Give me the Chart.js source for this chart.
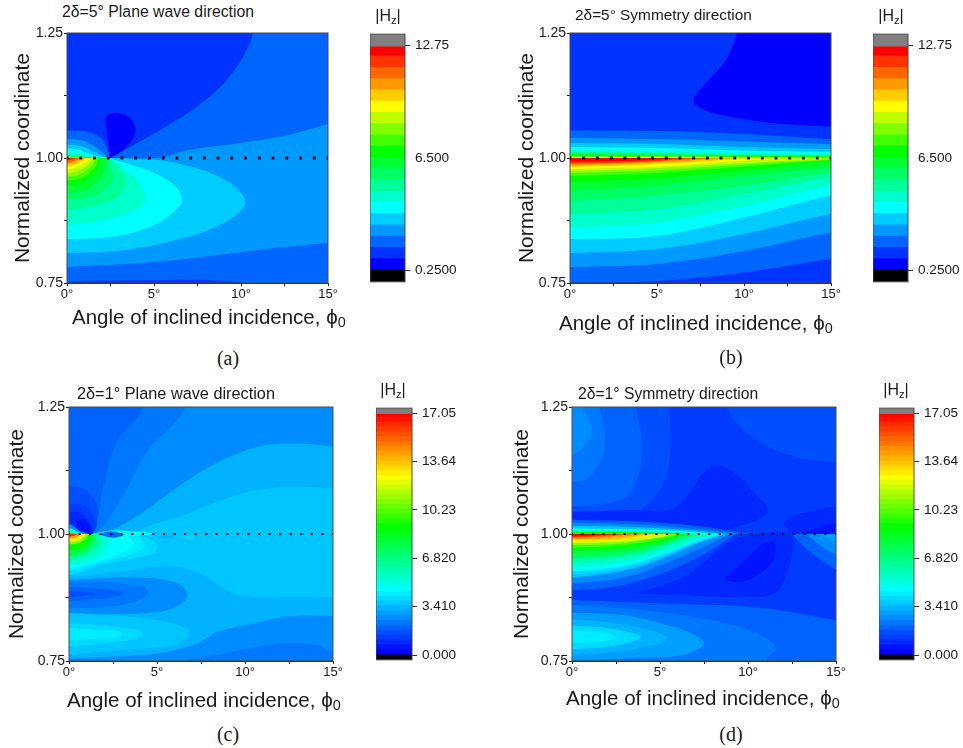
<!DOCTYPE html>
<html>
<head>
<meta charset="utf-8">
<title>Hz contour maps</title>
<script src="https://cdn.jsdelivr.net/npm/chart.js@4"></script>
<style>
  html, body { margin: 0; background: #fff; overflow: hidden; }
  #page { position: relative; width: 963px; height: 748px; font-family: "Liberation Sans", Arial, sans-serif; color: #1a1a1a; }
  canvas { position: absolute; }
  .lbl { position: absolute; white-space: nowrap; transform: translateY(-50%); line-height: 1; }
  .lbl sub { font-size: 70%; vertical-align: -0.25em; line-height: 0; }
  .mid { transform: translate(-50%, -50%); }
  .serif { font-family: "Liberation Serif", serif; }
</style>
</head>
<body>
<div id="page"></div>
<script>
// colour bar levels
const levelsAB = [0.25,0.875,1.5,2.125,2.75,3.375,4,4.625,5.25,5.875,6.5,7.125,7.75,8.375,9,9.625,10.25,10.875,11.5,12.125,12.75];
const levelsCD = [0,0.341,0.682,1.023,1.364,1.705,2.046,2.387,2.728,3.069,3.41,3.751,4.092,4.433,4.774,5.115,5.456,5.797,6.138,6.479,6.82,7.161,7.502,7.843,8.184,8.525,8.866,9.207,9.548,9.889,10.23,10.571,10.912,11.253,11.594,11.935,12.276,12.617,12.958,13.299,13.64,13.981,14.322,14.663,15.004,15.345,15.686,16.027,16.368,16.709,17.05];
const barTicksAB = [12.75, 6.5, 0.25];
const barLabelsAB = ["12.75", "6.500", "0.2500"];
const barTicksCD = [17.05, 13.64, 10.23, 6.82, 3.41, 0];
const barLabelsCD = ["17.05", "13.64", "10.23", "6.820", "3.410", "0.000"];

// dotted line at coordinate 1.00
const dotsAB = [0,0.79,1.58,2.37,3.16,3.95,4.74,5.53,6.32,7.11,7.89,8.68,9.47,10.26,11.05,11.84,12.63,13.42,14.21,15];
const dotsCD = [0,0.6,1.2,1.8,2.4,3,3.6,4.2,4.8,5.4,6,6.6,7.2,7.8,8.4,9,9.6,10.2,10.8,11.4,12,12.6,13.2,13.8,14.4,15];

// contour regions: [level or |Hz|, angle, coordinate, angle, coordinate, ...]
// a repeated point is a sharp corner
const fillsA = [
  [2, -5,0.4, -5,0.4, -5,1.6, -5,1.6, 20,1.6, 20,1.6, 20,0.4, 20,0.4],
  [3, -1,0.782, -1,0.782, 0,0.782, 5.7,0.794, 11.46,0.818, 15,0.831, 16,0.838, 16,0.838, 16,1.075, 16,1.075, 15,1.068, 12.6,1.045, 9.54,1.028, 6.86,1.015, 5.5,1.001, 3.8,1, 2.45,1, 2.45,1, -1,1],
  [1, -1,0.74, -1,0.74, 0,0.752, 3,0.755, 5.7,0.756, 8,0.756, 10.3,0.75, 11,0.74],
  [1, -1,1.3, 10.7,1.3, 10.7,1.3, 10.7,1.25, 9.9,1.19, 8.6,1.135, 6.85,1.088, 4.95,1.048, 2.6,1.002, 2.45,1, 2.45,1, 2.07,1.035, 1.3,1.051, 0,1.055, -1,1.055],
  [0, 2.47,1, 3.3,1.018, 3.93,1.051, 3.7,1.078, 2.93,1.09, 2.26,1.084, 2.26,1.058, 2.41,1.021, 2.47,1]
];
const lobesA = [
  [3, 0,1.0375, 0.9,1.035, 1.7,1.021, 2.3,1.003, 2.45,1],
  [4, 0,1.027, 0.8,1.024, 1.5,1.013, 2.2,1.002, 2.45,1],
  [5, 0,1.019, 0.7,1.016, 1.3,1.008, 2.1,1.001, 2.45,1],
  [6, 0,1.012, 0.6,1.01, 1.2,1.004, 2.4,1],
  [8, 0,1.006, 0.6,1.005, 1.2,1.002, 2.4,1],
  [11, 0,1.003, 0.7,1.002, 1.5,1],
  [4, 0,0.81, 2.85,0.814, 5.7,0.831, 8,0.854, 9.5,0.881, 10.25,0.911, 9.7,0.941, 8.4,0.968, 6.85,0.985, 5.5,0.995, 3.8,0.998, 2.45,1],
  [5, 0,0.838, 1.9,0.84, 3.8,0.851, 5.3,0.871, 6.3,0.898, 6.6,0.914, 6.3,0.941, 5.3,0.965, 4.2,0.981, 2.6,0.998, 2.45,1],
  [6, 0,0.866, 1.9,0.874, 3.4,0.888, 4.27,0.904, 4.5,0.921, 4.2,0.951, 3.4,0.975, 2.6,0.998, 2.45,1],
  [7, 0,0.896, 1.5,0.904, 2.85,0.921, 3.37,0.951, 3.1,0.975, 2.45,1],
  [8, 0,0.916, 1.3,0.921, 2.26,0.941, 2.64,0.961, 2.45,0.985, 2.35,1],
  [9, 0,0.931, 1.1,0.935, 1.88,0.958, 2.22,0.978, 2.3,1],
  [10, 0,0.945, 0.92,0.951, 1.7,0.971, 1.88,0.991, 2.05,1],
  [11, 0,0.955, 0.92,0.961, 1.6,0.981, 1.84,1],
  [12, 0,0.963, 0.82,0.968, 1.5,0.988, 1.7,1],
  [13, 0,0.969, 0.73,0.976, 1.3,0.989, 1.55,1],
  [14, 0,0.977, 0.63,0.983, 1.15,0.993, 1.4,1],
  [15, 0,0.983, 0.54,0.988, 0.96,0.995, 1.2,1],
  [16, 0,0.988, 0.44,0.992, 1,1],
  [17, 0,0.991, 0.4,0.994, 0.82,1],
  [18, 0,0.995, 0.3,0.997, 0.58,1],
  [19, 0,0.998, 0.2,0.999, 0.38,1]
];

const fillsB = [
  [1, -5,0.4, -5,0.4, -5,1.6, -5,1.6, 20,1.6, 20,1.6, 20,0.4, 20,0.4],
  [0, 9.57,1.3, 9.57,1.25, 9.38,1.225, 8.8,1.188, 7.85,1.152, 7.1,1.118, 7.27,1.105, 8.04,1.092, 9.95,1.078, 12.26,1.068, 15,1.063, 16,1.06, 16,1.06, 16,1.3]
];
// panel b bands: level, upper edge at 0,5,10,15 deg, lower edge at 0,5,10,15 deg
const bandX = [0, 5, 10, 15];
const bandsB = [
  [2, 1.055,1.054,1.048,1.038, 0.751,0.754,0.771,0.798],
  [3, 1.04,1.038,1.033,1.028, 0.782,0.788,0.814,0.851],
  [4, 1.03,1.028,1.022,1.018, 0.81,0.818,0.848,0.888],
  [5, 1.022,1.02,1.015,1.012, 0.838,0.844,0.881,0.925],
  [6, 1.016,1.014,1.01,1.008, 0.861,0.871,0.904,0.945],
  [7, 1.012,1.011,1.008,1.006, 0.888,0.898,0.928,0.961],
  [8, 1.01,1.008,1.006,1.005, 0.914,0.925,0.945,0.971],
  [9, 1.008,1.006,1.005,1.004, 0.935,0.945,0.965,0.981],
  [10, 1.006,1.005,1.004,1.003, 0.952,0.96,0.976,0.993],
  [11, 1.004,1.004,1.003,1.002, 0.964,0.97,0.983,0.996],
  [12, 1.003,1.003,1.002,1.0015, 0.97,0.975,0.987,0.997],
  [13, 1.002,1.002,1.0015,1.001, 0.974,0.98,0.99,0.998]
];
const lobesB = [
  [14, 0,0.978, 5,0.983, 10,0.995, 13,1],
  [15, 0,0.982, 5,0.988, 11,1],
  [16, 0,0.985, 5,0.991, 9.5,1],
  [17, 0,0.988, 5,0.994, 8.5,1],
  [18, 0,0.99, 4,0.992, 7,1],
  [19, 0,0.993, 3,0.994, 5,0.997, 6,1]
];

const fillsC = [
  [3.3, -5,0.4, -5,0.4, -5,1.6, -5,1.6, 20,1.6, 20,1.6, 20,0.4, 20,0.4],
  [2.95, -1,1.4, 16,1.4, 16,1.4, 16,1.09, 15,1.09, 12.75,1.093, 10.48,1.086, 8.4,1.063, 6.5,1.037, 4.6,1.017, 3.67,1.004, 2.35,1, 2.35,1, -1,1],
  [2.5, -1,1.4, 16,1.4, 16,1.4, 16,1.168, 15,1.172, 13.13,1.178, 11.2,1.175, 9.34,1.155, 7.45,1.122, 5.56,1.077, 3.67,1.031, 2.16,1.004, 1.3,1, 1.3,1, -1,1],
  [2.08, -1,1.4, 7.2,1.4, 7.2,1.4, 6.6,1.25, 4.43,1.162, 3.1,1.077, 1.78,1.008, 1.3,1, 1.3,1, -1,1],
  [1.67, -1,1.4, 5,1.4, 5,1.4, 4.24,1.25, 2.72,1.182, 1.97,1.096, 1.59,1.024, 1.3,1, 1.3,1, -1,1],
  [2.95, 16,0.876, 15,0.876, 11.2,0.876, 9.34,0.883, 8.4,0.902, 7.26,0.925, 5.56,0.937, 3.67,0.929, 0,0.916, -1,0.916, -1,0.916, -1,0.7, -1,0.7, 16,0.7, 16,0.7],
  [2.5, 16,0.838, 12.56,0.838, 10.48,0.824, 8.4,0.807, 7.3,0.785, 5,0.765, 0,0.755, -1,0.755, -1,0.755, -1,0.7, -1,0.7, 16,0.7, 16,0.7],
  [2.08, 16,0.76, 15,0.768, 14.05,0.782, 12.56,0.785, 11.2,0.781, 9.34,0.768, 7.45,0.755, 6.7,0.75, 6.7,0.7, 6.7,0.7, 16,0.7, 16,0.7],
  [2.5, -1,0.91, 0,0.91, 3.67,0.915, 5.94,0.906, 6.7,0.886, 6.41,0.863, 5.18,0.847, 1.78,0.843, 0,0.845, -1,0.845],
  [2.08, -1,0.905, 0,0.905, 1.78,0.906, 3.6,0.9, 4.3,0.894, 4.48,0.886, 4.3,0.876, 3.6,0.865, 1.78,0.855, 0,0.855, -1,0.855],
  [1.67, -1,0.895, 0,0.895, 1.6,0.893, 2.8,0.888, 3.14,0.883, 2.8,0.877, 1.6,0.872, 0,0.868, -1,0.868],
  [1.3, -1,0.888, 0,0.888, 1,0.886, 1.35,0.884, 1.4,0.882, 1.3,0.88, 1,0.879, 0,0.876, -1,0.876],
  [3.3, -1,0.843, 0,0.843, 3.67,0.837, 5.94,0.824, 6.6,0.815, 6.88,0.804, 6.6,0.793, 5.94,0.781, 1.78,0.768, 0,0.762, -1,0.762],
  [3.7, -1,0.824, 0,0.824, 2,0.82, 3.8,0.812, 4.24,0.803, 3.8,0.794, 2,0.785, 0,0.778, -1,0.778],
  [4.1, -1,0.815, 0,0.815, 1.5,0.812, 2.7,0.81, 3,0.803, 2.7,0.796, 1.5,0.794, 0,0.79, -1,0.79]
];
const lobesC = [
  [1.3, 0,1.096, 1.02,1.086, 1.59,1.057, 1.59,1.017, 1.3,1],
  [0.9, 0,1.06, 0.93,1.054, 1.49,1.024, 1.3,1],
  [0.55, 0,1.044, 0.74,1.04, 1.36,1.008, 1.3,1],
  [3.7, 0,0.919, 1.78,0.939, 3.67,0.952, 4.8,0.962, 5.03,0.978, 4.52,0.991, 3.67,0.998, 3.3,1],
  [4.05, 0,0.926, 1.78,0.944, 3.4,0.958, 4.3,0.975, 4,0.993, 3.5,1],
  [4.4, 0,0.932, 1.78,0.948, 3.1,0.965, 3.67,0.981, 3.3,0.996, 2.9,1],
  [5.1, 0,0.94, 1.5,0.95, 2.2,0.975, 2.1,0.995, 1.8,1],
  [6.1, 0,0.948, 1.1,0.958, 1.8,0.98, 1.7,1],
  [7.5, 0,0.956, 0.9,0.965, 1.45,0.985, 1.45,1],
  [8.9, 0,0.968, 0.8,0.973, 1.25,0.99, 1.3,1],
  [10.5, 0,0.98, 0.6,0.983, 1,0.993, 1.1,1],
  [12.5, 0,0.984, 0.5,0.987, 0.9,0.996, 0.95,1],
  [14, 0,0.991, 0.4,0.993, 0.7,1],
  [16, 0,0.995, 0.3,0.997, 0.5,1],
  [2.5, 0,1.02, 0.4,1.012, 0.9,1.004, 1.1,1],
  [4.4, 0,1.012, 0.4,1.006, 0.8,1],
  [7, 0,1.006, 0.3,1.003, 0.6,1]
];
const spotsC = [
  [0.3, 0.36,1.027, 0.83,1.03, 1.25,1.014, 1.2,1.003, 0.55,1.008, 0.36,1.027],
  [4.4, 1.3,1, 2.2,1.006, 3.3,1.006, 4.4,1.003, 4.9,1, 3.3,0.996, 2,0.998, 1.3,1],
  [1.8, 1.6,1, 2.4,1.005, 3.1,0.999, 2.5,0.993, 1.6,1],
  [2.95, 5,0.996, 5.5,0.997, 5.9,0.994, 5.4,0.991, 5,0.996],
  [3.9, 6.4,0.994, 6.8,0.997, 7.2,0.993, 6.8,0.989, 6.4,0.994]
];

const fillsD = [
  [1.07, -5,0.4, -5,0.4, -5,1.6, -5,1.6, 20,1.6, 20,1.6, 20,0.4, 20,0.4],
  [1.3, 8.6,1.3, 8.79,1.25, 9.73,1.205, 11.63,1.165, 13.52,1.146, 15,1.141, 16,1.135, 16,1.135, 16,1.3],
  [1.3, -1,1.4, 5.6,1.4, 5.6,1.4, 5.53,1.25, 5.6,1.182, 5.38,1.116, 4.62,1.07, 3.67,1.047, 0,1.044, -1,1.044],
  [1.67, -1,1.4, 3.7,1.4, 3.7,1.4, 3.67,1.25, 3.96,1.182, 3.77,1.116, 2.92,1.07, 0,1.054, -1,1.054],
  [2, -1,1.4, 1.6,1.4, 1.6,1.4, 1.59,1.25, 1.88,1.2, 1.69,1.149, 0.83,1.109, 0,1.103, -1,1.103],
  [2.3, -1,1.4, 0.64,1.4, 0.64,1.4, 0.64,1.25, 1.12,1.214, 1.02,1.188, 0,1.155, -1,1.155],
  [0.65, -1,1.044, 0,1.044, 3.67,1.047, 5.57,1.047, 6.5,1.073, 7.37,1.116, 8.2,1.136, 9.36,1.116, 10.3,1.083, 11.15,1.047, 10.5,1.027, 9,1.011, 8.5,1.002, 8.5,1.002, -1,1],
  [0.75, 12.1,1.027, 12.95,1.04, 15,1.054, 16,1.058, 16,1.058, 16,1, 16,1, 12.6,1, 12.1,1.015, 12.1,1.027],
  [0.45, 13.3,1.004, 14.1,1.014, 15,1.021, 16,1.025, 16,1.025, 16,1, 16,1, 13.3,1],
  [1.67, -1,0.87, 0,0.87, 5.95,0.862, 10.7,0.855, 15,0.83, 16,0.82, 16,0.82, 16,0.7, 16,0.7, -1,0.7],
  [2.08, -1,0.86, 0,0.86, 4.05,0.85, 8,0.83, 10.5,0.805, 11.6,0.775, 11,0.75, 11,0.7, 11,0.7, -1,0.7],
  [2.6, -1,0.845, 0,0.845, 3,0.84, 6,0.815, 7,0.8, 7.5,0.785, 7,0.77, 6,0.76, 3,0.755, 0,0.752, -1,0.752],
  [3.1, -1,0.832, 0,0.832, 2.5,0.825, 4.5,0.81, 5.1,0.803, 5.4,0.795, 5.1,0.786, 4.5,0.78, 2.5,0.768, 0,0.762, -1,0.762],
  [3.6, -1,0.82, 0,0.82, 2,0.815, 3.5,0.804, 3.9,0.797, 3.5,0.789, 2,0.778, 0,0.773, -1,0.773],
  [4.1, -1,0.81, 0,0.81, 1.2,0.808, 2.1,0.804, 2.4,0.798, 2.1,0.791, 1.2,0.788, 0,0.785, -1,0.785],
  [0.8, 3.58,0.883, 5.95,0.909, 7.08,0.932, 8.6,0.978, 9.36,0.991, 10.1,0.998, 12.4,0.999, 12.4,0.945, 11.6,0.886, 9.7,0.876, 5.95,0.88, 3.58,0.883],
  [0.45, 8.6,0.909, 9.7,0.945, 11.06,0.985, 11.53,0.981, 11.53,0.958, 11.06,0.932, 9.7,0.906, 8.6,0.909],
  [1.7, 12.5,1, 13.5,0.965, 15,0.93, 16,0.92, 16,0.92, 16,1, 16,1, 12.5,1],
  [2.3, 13.3,1, 14.2,0.975, 15,0.96, 16,0.95, 16,0.95, 16,1, 16,1, 13.3,1],
  [2.8, 14,1, 15,0.985, 16,0.98, 16,0.98, 16,1, 16,1, 14,1]
];
const lobesD = [
  [1.67, 0,0.889, 3,0.9, 6,0.935, 8,0.97, 9.3,1],
  [2.5, 0,0.903, 3,0.915, 5.5,0.945, 7.5,0.975, 9,1],
  [3.3, 0,0.914, 3,0.928, 5,0.95, 7,0.98, 8.8,1],
  [3.85, 0,0.92, 3,0.933, 5,0.954, 7,0.982, 8.65,1],
  [4.4, 0,0.926, 3,0.938, 5,0.958, 7,0.985, 8.5,1],
  [4.95, 0,0.933, 3,0.944, 5,0.963, 7,0.988, 8.2,1],
  [5.5, 0,0.94, 3,0.95, 5,0.968, 7,0.99, 8,1],
  [6.2, 0,0.946, 3,0.955, 5,0.973, 6.9,0.996, 7.4,1],
  [7, 0,0.952, 3,0.96, 5,0.977, 6.8,1],
  [8, 0,0.96, 3,0.967, 5,0.981, 6.6,1],
  [8.9, 0,0.968, 3,0.973, 5,0.985, 6.5,1],
  [9.7, 0,0.973, 3,0.978, 5,0.989, 6.2,1],
  [10.5, 0,0.978, 3,0.982, 5,0.993, 6,1],
  [11.5, 0,0.982, 3,0.985, 5,0.994, 5.7,1],
  [12.5, 0,0.985, 2.5,0.987, 4,0.994, 5.5,1],
  [13.2, 0,0.988, 2.5,0.99, 4,0.996, 4.8,1],
  [14, 0,0.99, 2.5,0.993, 4.2,1],
  [15, 0,0.992, 2,0.995, 3.5,1],
  [16, 0,0.994, 1.5,0.996, 2.8,1],
  [16.8, 0,0.996, 1,0.997, 2,1],
  [1.67, 0,1.028, 4,1.024, 7,1.016, 9,1.006, 10.2,1],
  [2.5, 0,1.022, 4,1.018, 7,1.01, 9,1.003, 9.5,1],
  [3.3, 0,1.016, 4,1.013, 7,1.007, 8.8,1],
  [4.4, 0,1.011, 4,1.009, 7,1.004, 8.5,1],
  [6.5, 0,1.007, 4,1.006, 7,1.001, 7.5,1],
  [8.9, 0,1.004, 3,1.004, 6.5,1]
];

// page layout
const panels = [
  { id: "a", l: 67, r: 328, t: 33, b: 283, cx: 0, yTitleX: 23, dots: dotsAB, dotR: 2,
    regions: () => [...fillsA.map(polygon), ...lobesA.map(lobe)], colour: v => ramp(v / 19) },
  { id: "b", l: 570, r: 831, t: 33, b: 283, cx: 510, yTitleX: 527, dots: dotsAB, dotR: 2,
    regions: () => [...fillsB.map(polygon), ...bandsB.map(band), ...lobesB.map(lobe)], colour: v => ramp(v / 19) },
  { id: "c", l: 69, r: 333, t: 407, b: 661, cx: 0, yTitleX: 17, dots: dotsCD, dotR: 1.5,
    regions: () => [...fillsC.map(polygon), ...lobesC.map(lobe), ...spotsC.map(polygon)], colour: hzColour },
  { id: "d", l: 572, r: 836, t: 407, b: 661, cx: 510, yTitleX: 522, dots: dotsCD, dotR: 1.5,
    regions: () => [...fillsD.map(polygon), ...lobesD.map(lobe)], colour: hzColour }
];
const bars = [
  { l: 370, r: 405, t: 33, b: 283, levels: levelsAB, ticks: barTicksAB, labels: barLabelsAB },
  { l: 873, r: 908, t: 33, b: 283, levels: levelsAB, ticks: barTicksAB, labels: barLabelsAB },
  { l: 376, r: 412, t: 407, b: 661, levels: levelsCD, ticks: barTicksCD, labels: barLabelsCD },
  { l: 879, r: 914, t: 407, b: 661, levels: levelsCD, ticks: barTicksCD, labels: barLabelsCD }
];
const texts = [
  ["2δ=5° Plane wave direction", 62, 12, 15.8, ""],
  ["2δ=5° Symmetry direction", 575, 15, 15.4, ""],
  ["2δ=1° Plane wave direction", 77, 393, 16.3, ""],
  ["2δ=1° Symmetry direction", 578, 394, 15.7, ""],
  ["Angle of inclined incidence, ϕ<sub>0</sub>", 72, 317, 20.5, ""],
  ["Angle of inclined incidence, ϕ<sub>0</sub>", 559, 323, 20.5, ""],
  ["Angle of inclined incidence, ϕ<sub>0</sub>", 67, 700, 20.5, ""],
  ["Angle of inclined incidence, ϕ<sub>0</sub>", 566, 698, 20.5, ""],
  ["|H<sub>z</sub>|", 388, 16, 16, "mid"],
  ["|H<sub>z</sub>|", 891, 16, 16, "mid"],
  ["|H<sub>z</sub>|", 393, 390, 16, "mid"],
  ["|H<sub>z</sub>|", 896, 390, 16, "mid"],
  ["(a)", 228, 358, 20, "mid serif"],
  ["(b)", 731, 357, 20, "mid serif"],
  ["(c)", 228, 734, 20, "mid serif"],
  ["(d)", 731, 734, 20, "mid serif"]
];

const page = document.getElementById("page");
Chart.defaults.font.family = '"Liberation Sans", Arial, sans-serif';
Chart.defaults.color = "#1a1a1a";

// rainbow used by both colour bars
function ramp(t) {
  const stops = [[0,0,0,255],[0.263,0,255,255],[0.526,0,255,0],[0.737,255,255,0],[1,255,0,0]];
  t = Math.max(0, Math.min(1, t));
  let i = 0;
  while (i < stops.length - 2 && t > stops[i + 1][0]) i++;
  const a = stops[i], b = stops[i + 1], f = (t - a[0]) / (b[0] - a[0]);
  return "rgb(" + [1, 2, 3].map(k => Math.round(a[k] + (b[k] - a[k]) * f)).join(",") + ")";
}
function hzColour(hz) { return ramp(Math.round(hz / 0.341) / 49); }

function polygon(row) { return { v: row[0], pts: row.slice(1) }; }
// region closed along coordinate 1.00 back to the left edge
function lobe(row) {
  const p = row.slice(1), ex = p[p.length - 2], ey = p[p.length - 1];
  return { v: row[0], pts: [-1, p[1], ...p, ex, ey, -1, 1] };
}
function band(row) {
  const up = row.slice(1, 5), lo = row.slice(5, 9), pts = [-1, up[0]];
  bandX.forEach((x, i) => pts.push(x, up[i]));
  pts.push(16, up[3], 16, lo[3]);
  for (let i = 3; i >= 0; i--) pts.push(bandX[i], lo[i]);
  pts.push(-1, lo[0]);
  return { v: row[0], pts };
}
function toXY(flat) {
  const out = [];
  for (let i = 0; i < flat.length; i += 2) out.push({ x: flat[i], y: flat[i + 1] });
  return out;
}

const frame = {
  id: "frame",
  afterDatasetsDraw(chart) {
    const { ctx, chartArea: c } = chart;
    ctx.save();
    ctx.strokeStyle = "#4a4a4a";
    ctx.lineWidth = 1;
    ctx.strokeRect(c.left, c.top, c.right - c.left, c.bottom - c.top);
    ctx.restore();
  }
};

function addCanvas(x, y, w, h) {
  const cv = document.createElement("canvas");
  cv.width = w; cv.height = h;
  cv.style.left = x + "px"; cv.style.top = y + "px";
  page.appendChild(cv);
  return cv;
}

panels.forEach(p => {
  const top = p.t - 12, h = p.b - top + 28, w = p.r - p.cx + 30;
  const regions = p.regions().map(r => ({
    data: toXY(r.pts), showLine: true, fill: "shape", tension: 0.35,
    backgroundColor: p.colour(r.v), borderColor: p.colour(r.v), borderWidth: 0, pointRadius: 0
  }));
  const dotSet = {
    data: p.dots.map(x => ({ x, y: 1 })), showLine: false,
    pointStyle: "rect", pointRadius: p.dotR, backgroundColor: "#000", borderWidth: 0
  };
  new Chart(addCanvas(p.cx, top, w, h), {
    type: "scatter",
    // chart.js paints the first dataset last
    data: { datasets: [dotSet, ...regions.reverse()] },
    plugins: [frame],
    options: {
      responsive: false, animation: false, events: [],
      layout: { padding: { top: 12, right: 30 } },
      plugins: { legend: { display: false }, tooltip: { enabled: false } },
      scales: {
        x: {
          min: 0, max: 15,
          afterFit: s => { s.height = 28; },
          grid: { drawOnChartArea: false, tickLength: 3, tickColor: "#222" },
          border: { color: "#222" },
          ticks: {
            stepSize: 2.5, autoSkip: false, maxRotation: 0, padding: 1, font: { size: 13 },
            callback: v => (v % 5 === 0 ? v + "°" : "")
          }
        },
        y: {
          min: 0.75, max: 1.25,
          afterFit: s => { s.width = p.l - p.cx; },
          grid: { drawOnChartArea: false, tickLength: 3, tickColor: "#222" },
          border: { color: "#222" },
          title: {
            display: true, text: "Normalized coordinate", font: { size: 21 },
            padding: { top: Math.max(0, p.yTitleX - p.cx - 12.6), bottom: 0 }
          },
          ticks: {
            stepSize: 0.125, autoSkip: false, padding: 1, font: { size: 14 },
            callback: v => (Math.round(v * 100) % 25 === 0 ? v.toFixed(2) : "")
          }
        }
      }
    }
  });
});

bars.forEach(b => {
  const lv = b.levels, step = lv[1] - lv[0], last = lv[lv.length - 1];
  const sets = [
    { data: [[last, last + step]], backgroundColor: "#808080" },
    { data: [[lv[0] - step, lv[0]]], backgroundColor: "#000" }
  ];
  for (let i = 0; i < lv.length - 1; i++) {
    sets.push({ data: [[lv[i], lv[i + 1]]], backgroundColor: ramp(i / (lv.length - 2)) });
  }
  new Chart(addCanvas(b.l, b.t - 12, b.r - b.l + 70, b.b - b.t + 24), {
    type: "bar",
    data: { labels: [""], datasets: sets },
    plugins: [frame],
    options: {
      responsive: false, animation: false, events: [],
      layout: { padding: { top: 12, bottom: 12 } },
      datasets: { bar: { grouped: false, barPercentage: 1, categoryPercentage: 1, borderWidth: 0, inflateAmount: 1 } },
      plugins: { legend: { display: false }, tooltip: { enabled: false } },
      scales: {
        x: { display: false },
        y: {
          position: "right", min: lv[0] - step, max: last + step,
          afterBuildTicks: s => { s.ticks = b.ticks.map(value => ({ value })); },
          afterFit: s => { s.width = 70; },
          border: { display: false },
          grid: {
            drawOnChartArea: false, tickLength: 5,
            tickColor: c => (b.ticks.length === 3 && c.index === 1 ? "rgba(0,0,0,0)" : "#333")
          },
          ticks: { padding: 5, font: { size: 13.6 }, callback: (v, i) => b.labels[i] }
        }
      }
    }
  });
});

texts.forEach(t => {
  const d = document.createElement("div");
  d.className = "lbl " + t[4];
  d.innerHTML = t[0];
  d.style.left = t[1] + "px";
  d.style.top = t[2] + "px";
  d.style.fontSize = t[3] + "px";
  page.appendChild(d);
});
</script>
</body>
</html>
